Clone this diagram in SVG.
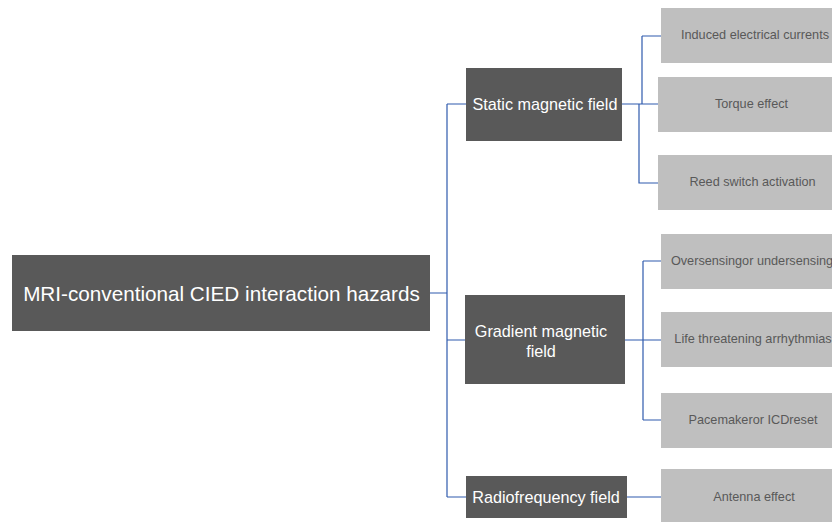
<svg xmlns="http://www.w3.org/2000/svg" width="832" height="522" viewBox="0 0 832 522">
<style>
.dark{fill:#595959}
.light{fill:#bfbfbf}
.tw{fill:#ffffff;font-family:"Liberation Sans",Arial,sans-serif;text-anchor:middle;dominant-baseline:central}
.tg{fill:#595959;font-family:"Liberation Sans",Arial,sans-serif;font-size:12.7px;text-anchor:middle;dominant-baseline:central}
.c{fill:none;stroke:#2f5aad;stroke-width:1.2}
</style>
<rect width="832" height="522" fill="#ffffff"/>
<g id="connectors">
<path class="c" d="M430,293 H447 M447,104 V497 M447,104 H466 M447,340 H465 M447,497 H466"/>
<path class="c" d="M622,104 H642 M642,36 V104 H658 M642,36 H661 M639,104 V183 H658"/>
<path class="c" d="M625,340 H643 M643,261 V420 M643,261 H661 M643,340 H661 M643,420 H661"/>
<path class="c" d="M627,497 H661"/>
</g>
<g id="root"><rect class="dark" x="12" y="255" width="418" height="76"/><text class="tw" x="221.5" y="293" font-size="20.7">MRI-conventional CIED interaction hazards</text></g>
<g id="static"><rect class="dark" x="466" y="68" width="156" height="73"/><text class="tw" x="545" y="104" font-size="16.2">Static magnetic field</text></g>
<g id="gradient"><rect class="dark" x="465" y="295" width="160" height="89"/><text class="tw" x="541" y="331" font-size="16.2">Gradient magnetic</text><text class="tw" x="541" y="351" font-size="16.2">field</text></g>
<g id="radio"><rect class="dark" x="466" y="476" width="161" height="42"/><text class="tw" x="546" y="497" font-size="16.2">Radiofrequency field</text></g>
<g id="induced"><rect class="light" x="661" y="8" width="180" height="55"/><text class="tg" x="755" y="35">Induced electrical currents</text></g>
<g id="torque"><rect class="light" x="658" y="77" width="180" height="55"/><text class="tg" x="751.5" y="104">Torque effect</text></g>
<g id="reed"><rect class="light" x="658" y="155" width="180" height="55"/><text class="tg" x="752.5" y="182">Reed switch activation</text></g>
<g id="oversensing"><rect class="light" x="661" y="234" width="180" height="55"/><text class="tg" x="752" y="261" font-size="12.4">Oversensingor undersensing</text></g>
<g id="arrhythmias"><rect class="light" x="661" y="312" width="180" height="55"/><text class="tg" x="753" y="339" font-size="12.4">Life threatening arrhythmias</text></g>
<g id="reset"><rect class="light" x="661" y="393" width="180" height="55"/><text class="tg" x="753" y="420">Pacemakeror ICDreset</text></g>
<g id="antenna"><rect class="light" x="661" y="469" width="180" height="53"/><text class="tg" x="754" y="497">Antenna effect</text></g>
</svg>
